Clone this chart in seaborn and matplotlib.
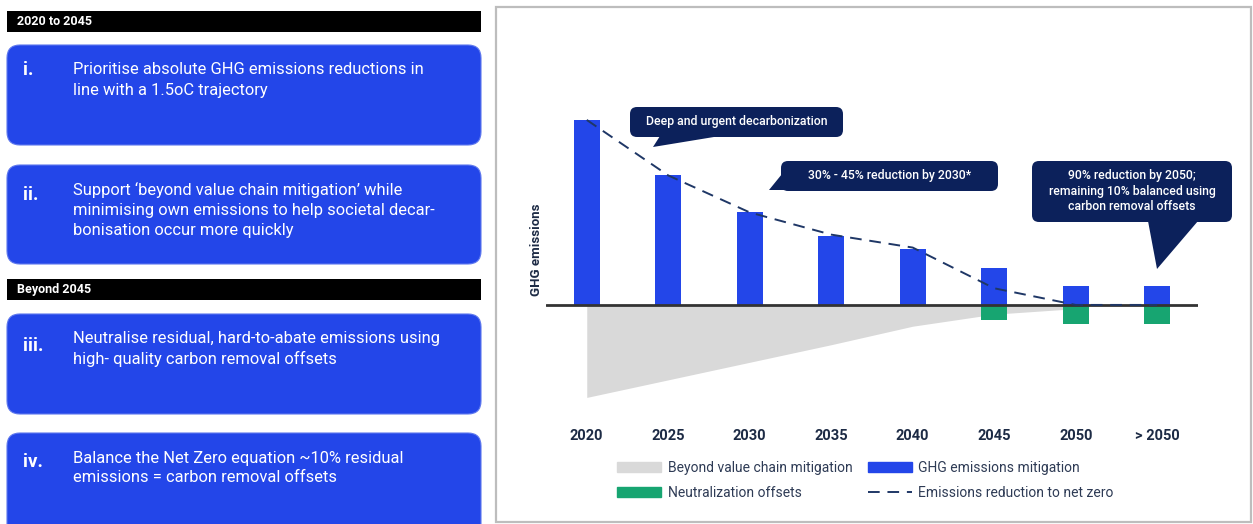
import numpy as np
import matplotlib.pyplot as plt
import seaborn as sns
from matplotlib.patches import FancyBboxPatch, Rectangle, Polygon, Patch
from matplotlib.lines import Line2D

# chart data (GHG emissions, 2020 level = 100)
years = ['2020', '2025', '2030', '2035', '2040', '2045', '2050', '> 2050']
ghg_mitigation = [100, 70, 50, 37, 30, 20, 10, 10]
neutralization = [0, 0, 0, 0, 0, -8, -10.5, -10.5]
net_zero_path = [100, 70, 50, 38, 31, 9, 0, 0]
beyond_value_chain = [-50, -40.5, -31, -21.5, -11.5, -5, -2]   # 2020 .. 2050

legend_labels = ['Beyond value chain mitigation', 'Neutralization offsets',
                 'GHG emissions mitigation', 'Emissions reduction to net zero']
callouts = ['Deep and urgent decarbonization', '30% - 45% reduction by 2030*',
            '90% reduction by 2050;\nremaining 10% balanced using\ncarbon removal offsets']

headers = ['2020 to 2045', 'Beyond 2045']
numerals = ['i.', 'ii.', 'iii.', 'iv.']
principles = [
    ['Prioritise absolute GHG emissions reductions in', 'line with a 1.5oC trajectory'],
    ['Support \u2018beyond value chain mitigation\u2019 while',
     'minimising own emissions to help societal decar-', 'bonisation occur more quickly'],
    ['Neutralise residual, hard-to-abate emissions using', 'high- quality carbon removal offsets'],
    ['Balance the Net Zero equation ~10% residual', 'emissions = carbon removal offsets'],
]

BLUE = '#2346E9'
GREEN = '#17A571'
GRAY = '#D9D9D9'
NAVY = '#0C215B'
DASH = '#1F3766'
LABEL = '#1D2B45'

sns.set_theme(style='white')
plt.rcParams['font.family'] = ['Roboto', 'DejaVu Sans']

W, H = 1253, 524
fig = plt.figure(figsize=(W / 100, H / 100), dpi=100)

# main chart
ax = fig.add_axes([546 / W, 1 - 410 / H, 652 / W, 350 / H])
ax.patch.set_alpha(0)
x = np.arange(len(years))
ax.fill_between(x[:len(beyond_value_chain)], beyond_value_chain, 0,
                color=GRAY, linewidth=0, zorder=1)
sns.barplot(x=years, y=ghg_mitigation, color=BLUE, width=0.32, saturation=1,
            linewidth=0, ax=ax, zorder=2)
sns.barplot(x=years, y=neutralization, color=GREEN, width=0.32, saturation=1,
            linewidth=0, ax=ax, zorder=2)
ax.axhline(0, color='#333333', lw=2, zorder=3)
sns.lineplot(x=x, y=net_zero_path, color=DASH, lw=1.4, dashes=False, ax=ax, zorder=4)
ax.lines[-1].set_dashes([6, 4])

ax.set_xlim(-0.5, len(years) - 0.5)
ax.set_ylim(-56.8, 132.4)
ax.set_yticks([])
ax.set_xticks(x)
ax.set_xticklabels(years, fontsize=10.5, fontweight='bold', color=LABEL)
ax.tick_params(axis='x', length=0, pad=13.5)
ax.set_xlabel('')
ax.set_ylabel('')
sns.despine(ax=ax, left=True, bottom=True)
fig.text(536 / W, 1 - 250 / H, 'GHG emissions', rotation=90, ha='center', va='center',
         fontsize=9.5, fontweight='bold', color=LABEL)

handles = [Patch(color=GRAY), Patch(color=GREEN), Patch(color=BLUE),
           Line2D([0], [0], color=DASH, lw=1.4, dashes=[6, 4])]
fig.legend(handles, legend_labels, ncol=2, loc='upper left',
           bbox_to_anchor=(610 / W, 1 - 454 / H), frameon=False, fontsize=10,
           handlelength=3.2, handleheight=0.75, handletextpad=0.45,
           columnspacing=1.1, labelspacing=0.8, borderpad=0, labelcolor='#2E3B55')

# overlay in pixel coordinates for the panels and callouts
ov = fig.add_axes([0, 0, 1, 1], zorder=10)
ov.set_xlim(0, W)
ov.set_ylim(H, 0)
ov.axis('off')
ov.patch.set_alpha(0)

ov.add_patch(Rectangle((496, 7), 755, 515, fill=False, edgecolor='#BDBDBD', lw=1.6))

for label, y0 in zip(headers, [11, 279]):
    ov.add_patch(Rectangle((7, y0), 474, 21, color='black', lw=0))
    ov.text(17, y0 + 10.5, label, color='white', fontsize=9, fontweight='bold', va='center')

box_tops = [45, 165, 314, 433]
box_heights = [100, 99, 100, 110]
num_y = [70, 195, 346, 462]
for top, h, num, ny, lines in zip(box_tops, box_heights, numerals, num_y, principles):
    ov.add_patch(FancyBboxPatch((7, top), 474, h, boxstyle='round,pad=0,rounding_size=13',
                                facecolor=BLUE, edgecolor='#5E78EE', lw=0.8))
    ov.text(23, ny, num, color='white', fontsize=13.5, fontweight='bold', va='center')
    for k, line in enumerate(lines):
        ov.text(73, top + 25 + 20 * k, line, color='white', fontsize=11.9, va='center')

# callouts
boxes = [(630, 107, 213, 30), (781, 161, 217, 30), (1032, 161, 200, 61)]
tails = [[(660, 136), (720, 136), (653, 147)],
         [(782, 174), (797, 190), (769, 190)],
         [(1148, 221), (1198, 221), (1157, 269)]]
for (bx, by, bw, bh), tail, txt in zip(boxes, tails, callouts):
    ov.add_patch(FancyBboxPatch((bx, by), bw, bh, boxstyle='round,pad=0,rounding_size=7',
                                facecolor=NAVY, edgecolor='none'))
    ov.add_patch(Polygon(tail, closed=True, facecolor=NAVY, edgecolor='none'))
    ov.text(bx + bw / 2, by + bh / 2, txt, color='white', fontsize=8.8, fontweight='medium',
            ha='center', va='center', linespacing=1.25)

fig.savefig('out.png', dpi=100)
